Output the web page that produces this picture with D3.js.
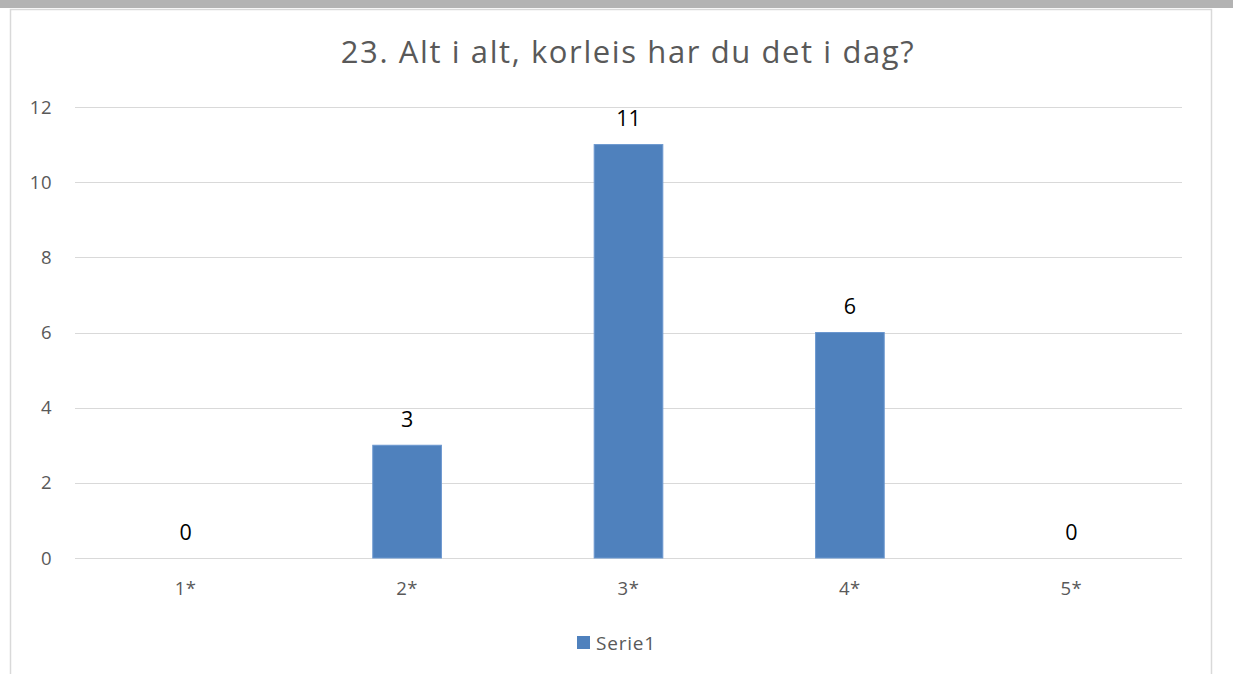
<!DOCTYPE html>
<html>
<head>
<meta charset="utf-8">
<script src="https://cdn.jsdelivr.net/npm/d3@7"></script>
<style>
  html, body { margin: 0; padding: 0; background: #fff; }
  svg { display: block; }
</style>
</head>
<body>
<script>
const categories = ['1*', '2*', '3*', '4*', '5*']
const values = [0, 3, 11, 6, 0]
const yTicks = [0, 2, 4, 6, 8, 10, 12]
const seriesName = 'Serie1'
const title = '23. Alt i alt, korleis har du det i dag?'

const W = 1233, H = 674
const font = '"Open Sans", "Noto Sans", sans-serif'

const svg = d3.select('body').append('svg')
  .attr('width', W)
  .attr('height', H)

// grey strip at the top of the page
svg.append('rect')
  .attr('x', 0).attr('y', 0)
  .attr('width', W).attr('height', 8)
  .attr('fill', '#b3b3b3')

// chart frame
svg.append('rect')
  .attr('x', 10.5).attr('y', 9.5)
  .attr('width', 1201).attr('height', H)
  .attr('fill', '#fff')
  .attr('stroke', '#d9d9d9')
  .attr('stroke-width', 1.5)

const x = d3.scaleBand()
  .domain(categories)
  .range([75, 1182])
  .paddingInner(0.69)
  .paddingOuter(0.345)

const y = d3.scaleLinear()
  .domain([0, 12])
  .range([558, 107])

const band = d3.scaleBand().domain(categories).range([75, 1182])

// gridlines
svg.append('g')
  .selectAll('line')
  .data(yTicks)
  .join('line')
    .attr('x1', 75).attr('x2', 1182)
    .attr('y1', d => Math.round(y(d)) + 0.5)
    .attr('y2', d => Math.round(y(d)) + 0.5)
    .attr('stroke', '#d9d9d9')
    .attr('stroke-width', 1.2)

// y tick labels
svg.append('g')
  .selectAll('text')
  .data(yTicks)
  .join('text')
    .attr('x', 52)
    .attr('y', d => y(d))
    .attr('dy', '0.36em')
    .attr('text-anchor', 'end')
    .attr('font-family', font)
    .attr('font-size', 18.5)
    .attr('letter-spacing', 0.5)
    .attr('fill', '#595959')
    .text(d => d)

// bars
svg.append('g')
  .selectAll('rect')
  .data(values)
  .join('rect')
    .attr('x', (d, i) => x(categories[i]))
    .attr('y', d => y(d))
    .attr('width', x.bandwidth())
    .attr('height', d => y(0) - y(d))
    .attr('fill', '#4f81bd')
    .attr('stroke', '#6b97cf')
    .attr('stroke-width', d => d > 0 ? 1 : 0)

// data labels
svg.append('g')
  .selectAll('text')
  .data(values)
  .join('text')
    .attr('x', (d, i) => band(categories[i]) + band.bandwidth() / 2)
    .attr('y', d => y(d) - 26)
    .attr('dy', '0.36em')
    .attr('text-anchor', 'middle')
    .attr('font-family', font)
    .attr('font-size', 21.5)
    .attr('fill', '#000')
    .text(d => d)

// category labels
svg.append('g')
  .selectAll('text')
  .data(categories)
  .join('text')
    .attr('x', d => band(d) + band.bandwidth() / 2)
    .attr('y', 588)
    .attr('dy', '0.36em')
    .attr('text-anchor', 'middle')
    .attr('font-family', font)
    .attr('font-size', 18.5)
    .attr('letter-spacing', 0.5)
    .attr('fill', '#595959')
    .text(d => d)

// title
svg.append('text')
  .attr('x', 628)
  .attr('y', 52)
  .attr('dy', '0.36em')
  .attr('text-anchor', 'middle')
  .attr('font-family', font)
  .attr('font-size', 31)
  .attr('letter-spacing', 1.6)
  .attr('fill', '#595959')
  .text(title)

// legend
const legend = svg.append('g')
legend.append('rect')
  .attr('x', 577).attr('y', 636)
  .attr('width', 13).attr('height', 13)
  .attr('fill', '#4f81bd')
legend.append('text')
  .attr('x', 596).attr('y', 643)
  .attr('dy', '0.36em')
  .attr('font-family', font)
  .attr('font-size', 19)
  .attr('letter-spacing', 0.8)
  .attr('fill', '#595959')
  .text(seriesName)
</script>
</body>
</html>
